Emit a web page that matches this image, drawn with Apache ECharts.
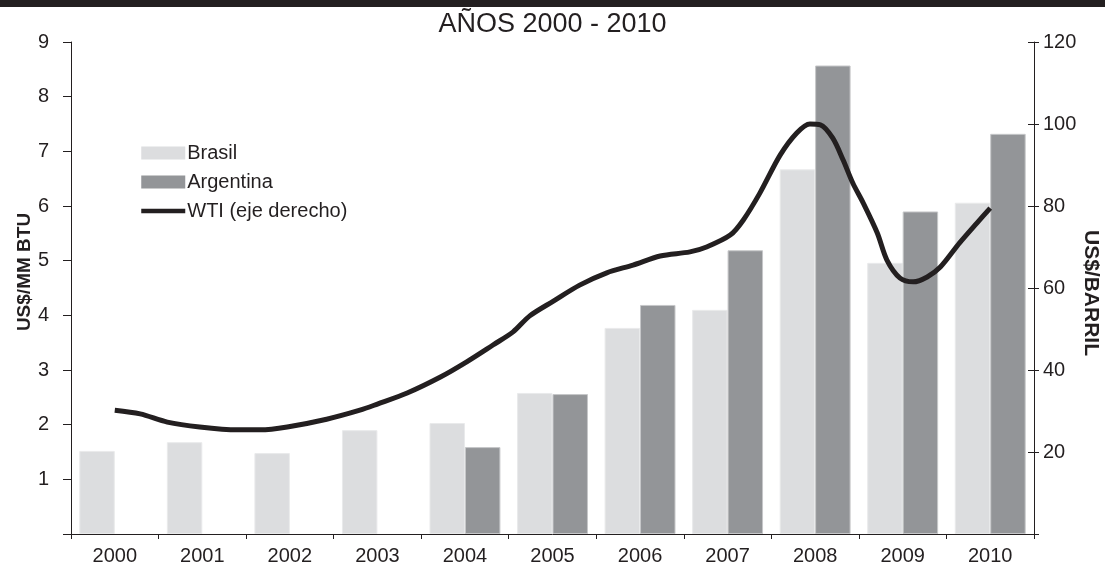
<!DOCTYPE html>
<html>
<head>
<meta charset="utf-8">
<script src="https://cdn.jsdelivr.net/npm/echarts@6/dist/echarts.min.js"></script>
<style>
html,body{margin:0;padding:0;background:#fff;}
#chart{width:1105px;height:569px;}
</style>
</head>
<body>
<div id="chart"></div>
<script>
// ---- data ----
const years = ['2000','2001','2002','2003','2004','2005','2006','2007','2008','2009','2010'];
const brasil = [1.52, 1.68, 1.48, 1.90, 2.03, 2.58, 3.77, 4.10, 6.67, 4.96, 6.06];
const argentina = [null, null, null, null, 1.59, 2.56, 4.19, 5.19, 8.57, 5.90, 7.32];
// WTI (US$/barril) — [year position, value]
const wtiX = [2000.50, 2000.79, 2001.10, 2001.47, 2001.90, 2002.16, 2002.47, 2002.92, 2003.30, 2003.50,
  2003.84, 2004.22, 2004.52, 2004.82, 2005.05, 2005.24, 2005.51, 2005.81, 2006.12, 2006.42,
  2006.73, 2007.07, 2007.26, 2007.53, 2007.68, 2007.87, 2008.10, 2008.29, 2008.44, 2008.56,
  2008.70, 2008.82, 2008.93, 2009.05, 2009.21, 2009.32, 2009.47, 2009.62, 2009.78, 2009.93,
  2010.15, 2010.35, 2010.50];
const wtiY = [30.2, 29.3, 27.3, 26.1, 25.4, 25.4, 26.1, 28.0, 30.2, 31.7,
  34.4, 38.3, 42.0, 46.1, 49.3, 53.2, 56.8, 60.7, 63.7, 65.6,
  67.8, 68.8, 70.0, 72.9, 76.6, 83.2, 92.4, 97.8, 100.0, 99.8,
  96.6, 91.2, 85.6, 80.7, 73.4, 66.8, 62.4, 61.5, 62.7, 65.1,
  71.0, 75.9, 79.5];
const leftTicks = [0,1,2,3,4,5,6,7,8,9];
const rightTicks = [0,20,40,60,80,100,120];

const titleText = 'AÑOS 2000 - 2010';
const leftName = 'US$/MM BTU';
const rightName = 'US$/BARRIL';

const wti = wtiX.map((x, i) => [x, wtiY[i]]);

const FONT = '"Liberation Sans", Arial, sans-serif';
const INK = '#231f20';

const chart = echarts.init(document.getElementById('chart'), null, {renderer: 'canvas'});
chart.setOption({
  animation: false,
  backgroundColor: '#fff',
  textStyle: {fontFamily: FONT, color: INK},
  graphic: [
    {type: 'rect', left: 0, top: 0, shape: {width: 1105, height: 7}, style: {fill: INK}, silent: true},
    {type: 'text', x: 25, y: 272, rotation: Math.PI / 2, silent: true,
      style: {text: leftName, align: 'center', verticalAlign: 'middle', fill: INK,
        font: 'bold 19px "Liberation Sans", Arial, sans-serif'}},
    {type: 'text', x: 1091, y: 293, rotation: -Math.PI / 2, silent: true,
      style: {text: rightName, align: 'center', verticalAlign: 'middle', fill: INK,
        font: 'bold 21px "Liberation Sans", Arial, sans-serif'}}
  ],
  title: {
    text: titleText, left: 'center', top: 6,
    textStyle: {fontFamily: FONT, fontSize: 27, fontWeight: 'normal', color: INK}
  },
  legend: {
    orient: 'vertical', left: 134, top: 138,
    itemWidth: 44, itemHeight: 13, itemGap: 9,
    textStyle: {fontFamily: FONT, fontSize: 20, color: INK, padding: [0, 0, 0, -3]},
    data: [
      {name: 'Brasil', icon: 'rect', itemStyle: {color: '#dcdddf', borderWidth: 0}},
      {name: 'Argentina', icon: 'rect', itemStyle: {color: '#939598', borderWidth: 0}},
      {name: 'WTI (eje derecho)', itemStyle: {opacity: 0}, lineStyle: {color: INK, width: 4.5}}
    ]
  },
  grid: {left: 71, right: 71, top: 42, bottom: 35, containLabel: false},
  xAxis: [
    {
      type: 'category', data: years, boundaryGap: true,
      axisLine: {lineStyle: {color: INK, width: 1}},
      axisTick: {show: true, length: 5, lineStyle: {color: INK}, alignWithLabel: false},
      axisLabel: {fontSize: 20, color: INK, fontFamily: FONT, margin: 12}
    },
    {type: 'value', min: 2000, max: 2011, show: false}
  ],
  yAxis: [
    {
      type: 'value', min: leftTicks[0], max: leftTicks[leftTicks.length - 1], interval: 1, position: 'left',
      axisLine: {show: true, lineStyle: {color: INK, width: 1}},
      axisTick: {show: true, length: 8, lineStyle: {color: INK}},
      axisLabel: {fontSize: 20, color: INK, fontFamily: FONT, margin: 22,
        formatter: v => (v === 0 ? '' : String(v))},
      splitLine: {show: false}
    },
    {
      type: 'value', min: rightTicks[0], max: rightTicks[rightTicks.length - 1], interval: 20, position: 'right',
      axisLine: {show: true, lineStyle: {color: INK, width: 1}},
      axisTick: {show: true, length: 5, lineStyle: {color: INK}},
      axisLabel: {fontSize: 20, color: INK, fontFamily: FONT, margin: 9,
        formatter: v => (v === 0 ? '' : String(v))},
      splitLine: {show: false}
    },
    {
      type: 'value', min: rightTicks[0], max: rightTicks[rightTicks.length - 1], interval: 20, position: 'right',
      axisLine: {show: false},
      axisTick: {show: true, inside: true, length: 6, lineStyle: {color: INK}},
      axisLabel: {show: false},
      splitLine: {show: false}
    }
  ],
  series: [
    {
      name: 'Brasil', type: 'bar', xAxisIndex: 0, yAxisIndex: 0, data: brasil,
      barGap: '0%', barCategoryGap: '19%',
      itemStyle: {color: '#dcdddf', borderColor: '#e9eaeb', borderWidth: 1}
    },
    {
      name: 'Argentina', type: 'bar', xAxisIndex: 0, yAxisIndex: 0, data: argentina,
      barGap: '0%', barCategoryGap: '19%',
      itemStyle: {color: '#939598', borderColor: '#c6c7c9', borderWidth: 1}
    },
    {
      name: 'WTI (eje derecho)', type: 'line', xAxisIndex: 1, yAxisIndex: 1, data: wti,
      smooth: 0.3, symbol: 'none',
      lineStyle: {color: INK, width: 5},
      itemStyle: {color: INK},
      z: 5
    }
  ]
});
</script>
</body>
</html>
